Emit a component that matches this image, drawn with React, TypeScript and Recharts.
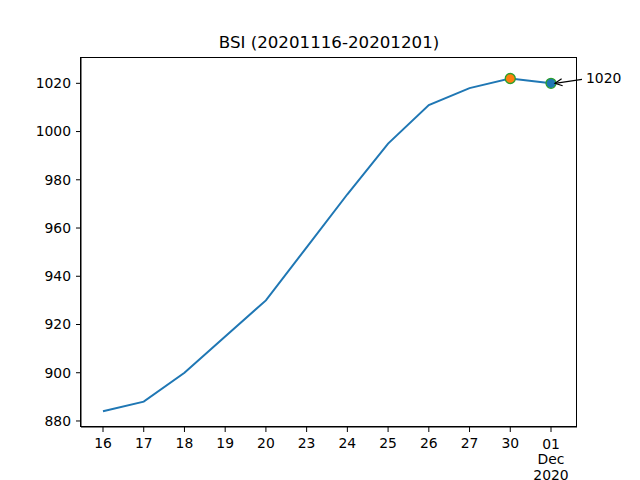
import { LineChart, Line, XAxis, YAxis, ReferenceDot } from "recharts";

const days = ["16", "17", "18", "19", "20", "23", "24", "25", "26", "27", "30", "01"];
const bsi = [884, 888, 900, 915, 930, 952, 974, 995, 1011, 1018, 1022, 1020];
const tickLabels = ["16", "17", "18", "19", "20", "23", "24", "25", "26", "27", "30", "01\nDec\n2020"];
const yTicks = [880, 900, 920, 940, 960, 980, 1000, 1020];
const maxPoint = { day: "30", value: 1022 };
const lastPoint = { day: "01", value: 1020 };

const data = days.map((d, i) => ({ day: d, bsi: bsi[i] }));
const FONT = "DejaVu Sans, sans-serif";

function DayTick({ x, y, payload }: any) {
  const idx = days.indexOf(payload.value);
  const lines = (tickLabels[idx] ?? payload.value).split("\n");
  return (
    <text x={x} y={y} textAnchor="middle" fontSize={13.9} fontFamily={FONT} fill="#000">
      {lines.map((l, i) => (
        <tspan key={i} x={x} dy={i === 0 ? (lines.length > 1 ? "0.87em" : "0.76em") : "1.1em"}>
          {l}
        </tspan>
      ))}
    </text>
  );
}

function ArrowLabel({ viewBox }: any) {
  const cx = viewBox.x + viewBox.width / 2;
  const cy = viewBox.y + viewBox.height / 2;
  const sx = cx + 31;
  const sy = cy - 4;
  const ex = cx + 4;
  const ey = cy;
  const ang = Math.atan2(sy - ey, sx - ex);
  const h = 8;
  const a1 = ang + 0.45;
  const a2 = ang - 0.45;
  return (
    <g>
      <line x1={sx} y1={sy} x2={ex} y2={ey} stroke="#000" strokeWidth={1.2} />
      <path
        d={`M${ex + h * Math.cos(a1)},${ey + h * Math.sin(a1)} L${ex},${ey} L${ex + h * Math.cos(a2)},${ey + h * Math.sin(a2)}`}
        fill="none"
        stroke="#000"
        strokeWidth={1.2}
      />
      <text x={cx + 35} y={cy - 5} dy="0.36em" fontSize={13.9} fontFamily={FONT} fill="#000">
        {lastPoint.value}
      </text>
    </g>
  );
}

export default function App() {
  return (
    <div style={{ position: "absolute", left: 0, top: 0, width: 640, height: 480, background: "#fff" }}>
      <div
        style={{
          position: "absolute",
          left: 81,
          width: 496,
          top: 33,
          textAlign: "center",
          fontFamily: FONT,
          fontSize: 16.67,
          lineHeight: "20px",
          color: "#000",
        }}
      >
        BSI (20201116-20201201)
      </div>
      <LineChart width={640} height={480} data={data} margin={{ top: 58, right: 63, bottom: 0, left: 0 }}>
        <XAxis
          dataKey="day"
          height={53}
          padding={{ left: 22, right: 26 }}
          axisLine={{ stroke: "#000", strokeWidth: 1 }}
          tickLine={{ stroke: "#000" }}
          tickSize={5}
          tickMargin={5}
          interval={0}
          tick={<DayTick />}
        />
        <YAxis
          width={81}
          domain={[877.5, 1030.5]}
          ticks={yTicks}
          allowDataOverflow
          axisLine={{ stroke: "#000", strokeWidth: 1 }}
          tickLine={{ stroke: "#000" }}
          tickSize={5}
          tickMargin={5}
          tick={{ fill: "#000", fontSize: 13.9, fontFamily: FONT }}
        />
        <Line
          type="linear"
          dataKey="bsi"
          stroke="#1f77b4"
          strokeWidth={2}
          dot={false}
          activeDot={false}
          isAnimationActive={false}
        />
        <ReferenceDot
          x={maxPoint.day}
          y={maxPoint.value}
          r={5}
          fill="#ff7f0e"
          stroke="#2ca02c"
          strokeWidth={1.3}
          ifOverflow="visible"
        />
        <ReferenceDot
          x={lastPoint.day}
          y={lastPoint.value}
          r={5}
          fill="#1f77b4"
          stroke="#2ca02c"
          strokeWidth={1.3}
          ifOverflow="visible"
          label={<ArrowLabel />}
        />
      </LineChart>
      <div
        style={{
          position: "absolute",
          left: 80,
          top: 57,
          width: 497,
          height: 370,
          boxSizing: "border-box",
          border: "1px solid #000",
          pointerEvents: "none",
        }}
      />
    </div>
  );
}
